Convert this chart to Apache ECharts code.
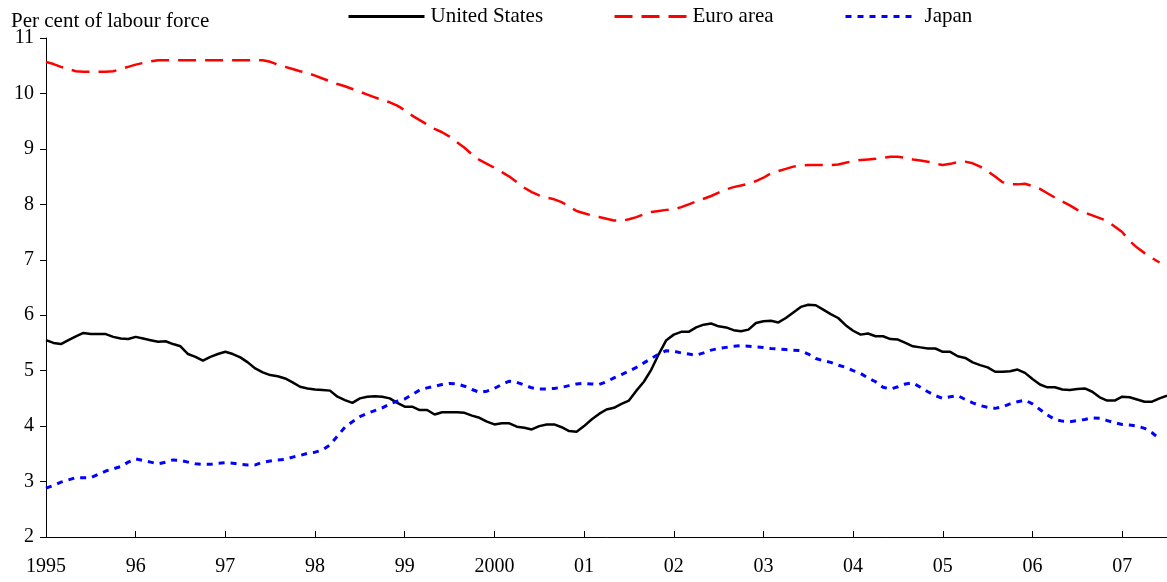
<!DOCTYPE html>
<html>
<head>
<meta charset="utf-8">
<script src="https://cdn.jsdelivr.net/npm/echarts@6/dist/echarts.min.js"></script>
<style>
  html, body { margin: 0; padding: 0; background: #fff; }
  #chart { width: 1167px; height: 582px; }
</style>
</head>
<body>
<div id="chart"></div>
<script>
// monthly, Jan 1995 .. Jul 2007
var yearLabels = ['1995', '96', '97', '98', '99', '2000', '01', '02', '03', '04', '05', '06', '07'];

var unitedStates = [
  5.55, 5.50, 5.48, 5.55, 5.62, 5.68, 5.66, 5.66, 5.66, 5.61, 5.58, 5.57,
  5.61, 5.58, 5.55, 5.52, 5.53, 5.48, 5.44, 5.30, 5.25, 5.18, 5.25, 5.30,
  5.34, 5.30, 5.24, 5.15, 5.04, 4.97, 4.92, 4.90, 4.86, 4.79, 4.71, 4.68,
  4.66, 4.65, 4.64, 4.53, 4.47, 4.42, 4.50, 4.53, 4.54, 4.53, 4.50, 4.42,
  4.35, 4.35, 4.29, 4.29, 4.21, 4.25, 4.25, 4.25, 4.24, 4.19, 4.15, 4.08,
  4.03, 4.05, 4.05, 3.99, 3.97, 3.94, 4.00, 4.03, 4.03, 3.98, 3.91, 3.90,
  4.00, 4.12, 4.22, 4.30, 4.33, 4.40, 4.46, 4.64, 4.80, 5.02, 5.30, 5.55,
  5.65, 5.70, 5.70, 5.78, 5.83, 5.85, 5.80, 5.78, 5.73, 5.71, 5.74, 5.86,
  5.89, 5.90, 5.87, 5.95, 6.05, 6.15, 6.19, 6.18, 6.10, 6.02, 5.95, 5.82,
  5.72, 5.65, 5.67, 5.62, 5.62, 5.57, 5.56, 5.50, 5.44, 5.42, 5.40, 5.40,
  5.34, 5.34, 5.26, 5.23, 5.15, 5.10, 5.06, 4.98, 4.98, 4.99, 5.02, 4.96,
  4.85, 4.75, 4.70, 4.70, 4.66, 4.65, 4.67, 4.68, 4.62, 4.52, 4.46, 4.46,
  4.53, 4.52, 4.48, 4.44, 4.44, 4.50, 4.55
];

var euroArea = [
  10.57, 10.53, 10.48, 10.44, 10.40, 10.39, 10.39, 10.39, 10.39, 10.40, 10.44, 10.48,
  10.52, 10.55, 10.58, 10.60, 10.60, 10.60, 10.60, 10.60, 10.60, 10.60, 10.60, 10.60,
  10.60, 10.60, 10.60, 10.60, 10.60, 10.60, 10.57, 10.52, 10.48, 10.44, 10.40, 10.37,
  10.32, 10.27, 10.22, 10.17, 10.13, 10.08, 10.03, 9.98, 9.93, 9.88, 9.84, 9.78,
  9.70, 9.60, 9.52, 9.44, 9.36, 9.30, 9.22, 9.12, 9.02, 8.90, 8.80, 8.73,
  8.66, 8.58, 8.50, 8.40, 8.30, 8.22, 8.16, 8.12, 8.09, 8.04, 7.96, 7.88,
  7.84, 7.80, 7.77, 7.74, 7.71, 7.70, 7.73, 7.77, 7.82, 7.86, 7.88, 7.90,
  7.91, 7.95, 8.00, 8.05, 8.10, 8.15, 8.21, 8.27, 8.31, 8.34, 8.37, 8.42,
  8.48, 8.56, 8.60, 8.64, 8.68, 8.70, 8.71, 8.71, 8.71, 8.71, 8.72, 8.75,
  8.78, 8.80, 8.81, 8.82, 8.84, 8.86, 8.86, 8.84, 8.81, 8.79, 8.77, 8.73,
  8.71, 8.73, 8.76, 8.77, 8.74, 8.68, 8.60, 8.50, 8.40, 8.36, 8.36, 8.37,
  8.33, 8.28, 8.20, 8.12, 8.05, 7.98, 7.90, 7.85, 7.80, 7.75, 7.70, 7.60,
  7.50, 7.34, 7.22, 7.12, 7.03, 6.95, null
];

var japan = [
  2.88, 2.93, 2.99, 3.03, 3.07, 3.07, 3.07, 3.13, 3.19, 3.23, 3.27, 3.35,
  3.41, 3.38, 3.35, 3.32, 3.35, 3.39, 3.38, 3.35, 3.32, 3.31, 3.31, 3.33,
  3.34, 3.33, 3.31, 3.30, 3.30, 3.35, 3.37, 3.39, 3.40, 3.44, 3.47, 3.51,
  3.53, 3.57, 3.66, 3.82, 3.98, 4.08, 4.17, 4.23, 4.28, 4.33, 4.40, 4.45,
  4.49, 4.57, 4.65, 4.69, 4.72, 4.75, 4.77, 4.76, 4.72, 4.66, 4.61, 4.63,
  4.68, 4.75, 4.81, 4.79, 4.74, 4.69, 4.67, 4.67, 4.68, 4.70, 4.73, 4.76,
  4.77, 4.76, 4.75, 4.80, 4.87, 4.93, 4.99, 5.06, 5.14, 5.22, 5.30, 5.36,
  5.35, 5.32, 5.30, 5.28, 5.32, 5.37, 5.40, 5.42, 5.44, 5.45, 5.44, 5.43,
  5.42, 5.40, 5.39, 5.38, 5.37, 5.36, 5.30, 5.22, 5.18, 5.15, 5.10, 5.06,
  5.00, 4.95, 4.87, 4.80, 4.70, 4.67, 4.71, 4.76, 4.78, 4.70, 4.62, 4.55,
  4.50, 4.53, 4.55, 4.48, 4.42, 4.37, 4.34, 4.32, 4.35, 4.40, 4.44, 4.47,
  4.40, 4.30, 4.20, 4.12, 4.09, 4.08, 4.10, 4.12, 4.15, 4.14, 4.10, 4.06,
  4.03, 4.02, 4.00, 3.96, 3.88, 3.77, null
];

var months = [];
for (var i = 0; i < unitedStates.length; i++) {
  months.push((1995 + Math.floor(i / 12)) + '-' + (i % 12 + 1));
}

var font = "'Liberation Serif', 'Times New Roman', serif";
var chart = echarts.init(document.getElementById('chart'));

function legendAt(left, name, w, textPad) {
  return {
    data: [name],
    left: left,
    top: 6,
    padding: 0,
    itemWidth: w,
    itemHeight: 14,
    itemGap: 0,
    selectedMode: false,
    itemStyle: { opacity: 0 },
    lineStyle: { width: 3 },
    textStyle: { fontFamily: font, fontSize: 21, color: '#000', padding: [0, 0, 0, textPad] }
  };
}

chart.setOption({
  animation: false,
  title: {
    text: 'Per cent of labour force',
    left: 11,
    top: 11,
    padding: 0,
    textStyle: { fontFamily: font, fontSize: 21, fontWeight: 'normal', color: '#000' }
  },
  legend: [
    legendAt(347, 'United States', 76, 1),
    legendAt(613, 'Euro area', 72, 1),
    legendAt(844, 'Japan', 66, 8)
  ],
  grid: { left: 46, right: 0, top: 38, bottom: 45, containLabel: false },
  xAxis: {
    type: 'category',
    data: months,
    boundaryGap: false,
    axisLine: { lineStyle: { color: '#000', width: 1 } },
    axisTick: {
      inside: true,
      length: 6,
      interval: function (idx) { return idx % 12 === 0; },
      lineStyle: { color: '#000' }
    },
    axisLabel: {
      interval: function (idx) { return idx % 12 === 0; },
      formatter: function (v, idx) { return yearLabels[Math.floor(idx / 12)]; },
      fontFamily: font,
      fontSize: 20,
      color: '#000',
      margin: 20
    },
    splitLine: { show: false }
  },
  yAxis: {
    type: 'value',
    min: 2,
    max: 11,
    interval: 1,
    axisLine: { show: true, lineStyle: { color: '#000', width: 1 } },
    axisTick: { show: true, length: 6, lineStyle: { color: '#000' } },
    axisLabel: { fontFamily: font, fontSize: 20, color: '#000', margin: 12 },
    splitLine: { show: false }
  },
  series: [
    {
      name: 'United States',
      type: 'line',
      data: unitedStates,
      showSymbol: false,
      symbol: 'none',
      itemStyle: { color: '#000' },
      lineStyle: { color: '#000', width: 2.5 }
    },
    {
      name: 'Euro area',
      type: 'line',
      data: euroArea,
      showSymbol: false,
      symbol: 'none',
      itemStyle: { color: '#ff0000' },
      lineStyle: { color: '#ff0000', width: 2.5, type: [18, 9] }
    },
    {
      name: 'Japan',
      type: 'line',
      data: japan,
      showSymbol: false,
      symbol: 'none',
      itemStyle: { color: '#0000ff' },
      lineStyle: { color: '#0000ff', width: 3, type: [6, 6] }
    }
  ]
});
</script>
</body>
</html>
